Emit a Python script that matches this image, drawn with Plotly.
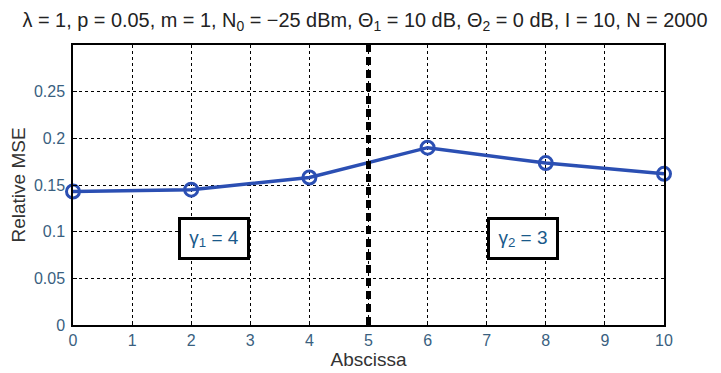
import plotly.graph_objects as go

x_vals = [0, 2, 4, 6, 8, 10]
mse_vals = [0.143, 0.145, 0.158, 0.190, 0.1735, 0.162]
y_ticks = [0, 0.05, 0.1, 0.15, 0.2, 0.25]
y_tick_text = ["0", "0.05", "0.1", "0.15", "0.2", "0.25"]
x_ticks = list(range(0, 11))
divider_x = 5
labels = ["γ<sub>1</sub> = 4", "γ<sub>2</sub> = 3"]
label_x = [2.39, 7.61]
label_y = [0.0928, 0.0928]

title = ("λ = 1, p = 0.05, m = 1, N<sub>0</sub> = −25 dBm, Θ<sub>1</sub> = 10 dB, "
         "Θ<sub>2</sub> = 0 dB, I = 10, N = 2000")

FONT = "Liberation Sans, Arial"
BLUE = "#2b4fb3"

fig = go.Figure()
fig.add_trace(go.Scatter(
    x=x_vals, y=mse_vals, mode="lines+markers",
    line=dict(color=BLUE, width=3.5),
    marker=dict(symbol="circle-open", size=13, color=BLUE, line=dict(width=3, color=BLUE)),
    showlegend=False, cliponaxis=False,
))

fig.add_shape(type="line", x0=divider_x, x1=divider_x, y0=0, y1=1, xref="x", yref="y domain",
              line=dict(color="black", width=5, dash="8px,5px"))

for t, lx, ly in zip(labels, label_x, label_y):
    fig.add_annotation(x=lx, y=ly, xref="x", yref="y", text=t, showarrow=False,
                       font=dict(family=FONT, size=19, color="#1a5a8a"),
                       bordercolor="black", borderwidth=3, borderpad=0,
                       bgcolor="white", width=66, height=37)

# page body has ~8px default margin; compensate so the plot lands where the reference has it
fig.update_layout(
    width=721, height=373,
    margin=dict(l=65, r=65, t=37, b=56, autoexpand=False),
    paper_bgcolor="white", plot_bgcolor="white",
    font=dict(family=FONT, size=16, color="#333333"),
    title=dict(text=title, x=(365 - 8) / 721, xanchor="center", y=1 - (20 - 8) / 373,
               yanchor="middle",
               font=dict(family=FONT, size=19.9, color="#222222")),
)
fig.update_xaxes(
    range=[0, 10], tickvals=x_ticks, showgrid=True, gridcolor="black", griddash="dot", gridwidth=1,
    showline=True, linecolor="black", linewidth=1.5, mirror=True, automargin=False,
    ticks="inside", ticklen=4, tickcolor="black", zeroline=False,
    tickfont=dict(size=16, color="#3a5f7f"),
    title=dict(text="Abscissa", standoff=2, font=dict(size=19, color="#333333")),
)
fig.update_yaxes(
    range=[0, 0.3], tickvals=y_ticks, ticktext=y_tick_text, showgrid=True, gridcolor="black",
    griddash="dot", gridwidth=1, automargin=False, ticklabelstandoff=3,
    showline=True, linecolor="black", linewidth=1.5, mirror=True,
    ticks="inside", ticklen=4, tickcolor="black", zeroline=False,
    tickfont=dict(size=16, color="#3a5f7f"),
    title=dict(text="Relative MSE", standoff=4, font=dict(size=19, color="#333333")),
)

fig.write_html("out.html")
